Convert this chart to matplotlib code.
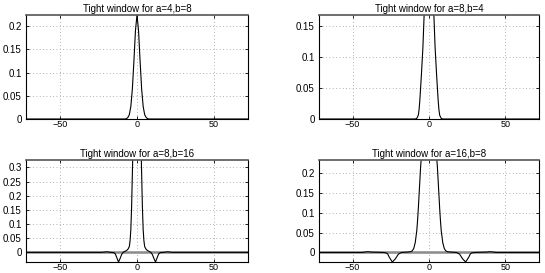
import numpy as np
import matplotlib.pyplot as plt
from matplotlib.ticker import FuncFormatter

plt.rcParams['font.family'] = ['Liberation Sans', 'DejaVu Sans']
plt.rcParams['font.size'] = 7

# values (x in samples, y = window value)
x1 = [-72, -8, -7, -6, -5, -4, -3, -2, -1, 0, 1, 2, 3, 4, 5, 6, 7, 8, 72]
y1 = [0, 0, 0.0005, 0.003, 0.009, 0.027, 0.065, 0.125, 0.19, 0.224,
      0.19, 0.125, 0.065, 0.027, 0.009, 0.003, 0.0005, 0, 0]

x2 = [-72, -9, -8, -7, -6.5, -6, -5.5, -5, -4, -3, -2, 0,
      2, 3, 4, 5, 5.5, 6, 6.5, 7, 8, 9, 72]
y2 = [0, 0, 0.001, 0.006, 0.015, 0.03, 0.05, 0.07, 0.115, 0.18, 0.21, 0.22,
      0.21, 0.18, 0.115, 0.07, 0.05, 0.03, 0.015, 0.006, 0.001, 0, 0]

x3 = [-72, -23, -21, -20, -19, -17, -15, -14, -13, -12, -11, -10, -9, -8, -7, -6,
      -5, -4.5, -4, -3.5, -3, -2.5, 0, 2.5, 3, 3.5, 4, 4.5, 5,
      6, 7, 8, 9, 10, 11, 12, 13, 14, 15, 17, 19, 20, 21, 23, 72]
y3 = [0, 0, 0.001, 0.002, 0.0015, 0, -0.001, -0.006, -0.02, -0.034, -0.022, -0.008, 0,
      0.003, 0.006, 0.01, 0.02, 0.04, 0.08, 0.16, 0.28, 0.40, 0.42, 0.40, 0.28,
      0.16, 0.08, 0.04, 0.02, 0.01, 0.006, 0.003, 0, -0.008, -0.022, -0.034,
      -0.02, -0.006, -0.001, 0, 0.0015, 0.002, 0.001, 0, 0]

x4 = [-72, -44, -42, -40, -38, -30, -28, -27, -26, -24, -22, -20, -18, -14, -12,
      -11, -10, -9, -8, -7.5, -7, -6.5, -6, -5.5, -5, -4, 0,
      4, 5, 5.5, 6, 6.5, 7, 7.5, 8, 9, 10, 11, 12, 14, 18, 20, 22, 24, 26,
      27, 28, 30, 38, 40, 42, 44, 72]
y4 = [0, 0, 0.001, 0.002, 0.001, 0, -0.001, -0.004, -0.012, -0.024, -0.016, -0.004,
      0, 0.001, 0.002, 0.004, 0.01, 0.025, 0.055, 0.08, 0.11, 0.145, 0.18, 0.215,
      0.24, 0.29, 0.30, 0.29, 0.24, 0.215, 0.18, 0.145, 0.11, 0.08, 0.055, 0.025,
      0.01, 0.004, 0.002, 0.001, 0, -0.004, -0.016, -0.024, -0.012, -0.004,
      -0.001, 0, 0.001, 0.002, 0.001, 0, 0]

titles = ['Tight window for a=4,b=8', 'Tight window for a=8,b=4',
          'Tight window for a=8,b=16', 'Tight window for a=16,b=8']
ylims = [(0, 0.2237), (0, 0.1677), (-0.034, 0.326), (-0.024, 0.233)]
yticks = [[0, 0.05, 0.1, 0.15, 0.2], [0, 0.05, 0.1, 0.15],
          [0, 0.05, 0.1, 0.15, 0.2, 0.25, 0.3], [0, 0.05, 0.1, 0.15, 0.2]]
xs = [x1, x2, x3, x4]
ys = [y1, y2, y3, y4]

W, H = 545, 273
boxes = [(26, 15, 248, 119), (319, 15, 539, 119),
         (26, 160, 248, 262), (319, 160, 539, 262)]

fig = plt.figure(figsize=(W / 100, H / 100), dpi=100)
fmt = FuncFormatter(lambda v, p: ('%g' % v).replace('-', '\u2212'))

for i in range(4):
    l, t, r, b = boxes[i]
    ax = fig.add_axes([l / W, 1 - b / H, (r - l) / W, (b - t) / H])
    if i >= 2:
        ax.axhline(0, color='#888888', lw=1.8, zorder=1)
    ax.plot(xs[i], ys[i], color='black', lw=0.8, zorder=2)
    ax.set_xlim(-72, 72)
    ax.set_ylim(*ylims[i])
    ax.set_xticks([-50, 0, 50])
    ax.set_yticks(yticks[i])
    ax.xaxis.set_major_formatter(fmt)
    ax.yaxis.set_major_formatter(fmt)
    ax.grid(True, color='#999999', linestyle=(0, (1, 3)), lw=0.6)
    ax.tick_params(direction='in', length=2, width=0.6, pad=3,
                   top=True, right=True, labelsize=7)
    ax.tick_params(axis='x', pad=1, labelsize=6.5)
    for s in ax.spines.values():
        s.set_linewidth(0.8)
        s.set_color('black')
    ax.spines['top'].set_color('#555555')
    ax.spines['top'].set_linewidth(1.2)
    ax.set_title(titles[i], fontsize=7, pad=2.5)

fig.savefig('out.png', dpi=100)
